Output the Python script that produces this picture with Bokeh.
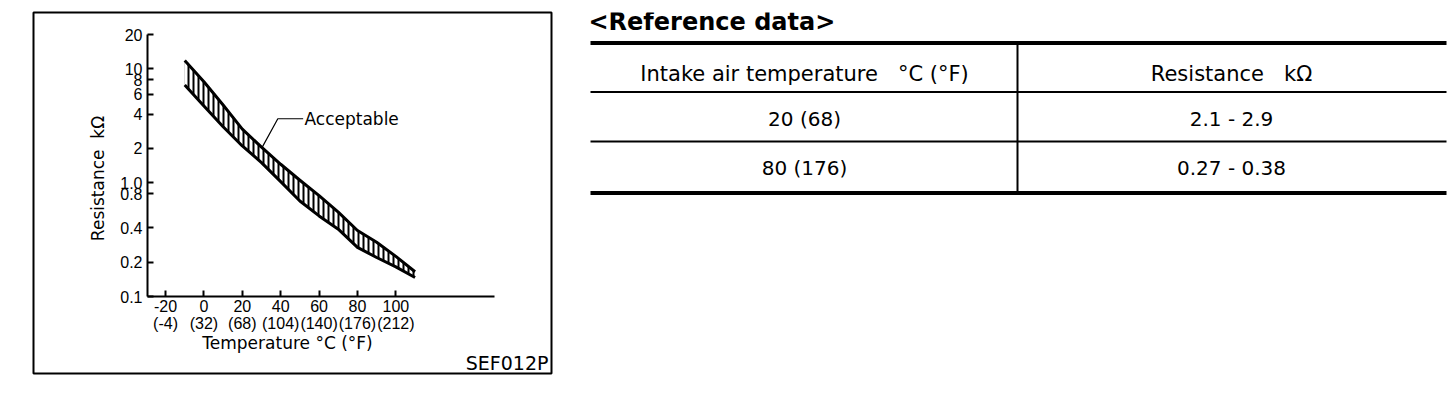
from bokeh.plotting import figure
from bokeh.models import Range1d, FixedTicker, LinearAxis, LogAxis, ColumnDataSource
from bokeh.layouts import row
from bokeh.embed import file_html
from bokeh.resources import INLINE
from bokeh.core.properties import value
import math

# ---------------- data ----------------
temp_c = [-10, 0, 10, 20, 30, 40, 50, 60, 70, 80, 90, 100, 110]
upper_kohm = [11.8, 7.7, 4.8, 2.95, 2.05, 1.45, 1.05, 0.77, 0.55, 0.38, 0.30, 0.225, 0.165]
lower_kohm = [7.2, 4.7, 3.1, 2.1, 1.5, 1.02, 0.69, 0.51, 0.39, 0.27, 0.22, 0.182, 0.147]

x_ticks = [-20, 0, 20, 40, 60, 80, 100]
x_tick_labels = ["-20\n(-4)", "0\n(32)", "20\n(68)", "40\n(104)", "60\n(140)", "80\n(176)", "100\n(212)"]
y_ticks = [0.1, 0.2, 0.4, 0.8, 1.0, 2, 4, 6, 8, 10, 20]
y_tick_labels = ["0.1", "0.2", "0.4", "0.8", "1.0", "2", "4", "6", "8", "10", "20"]
x_bounds = (-29.4, 151.4)
y_bounds = (0.1, 20)

leader_x = [30.4, 38.5, 51.7]
leader_y = [2.05, 3.64, 3.64]
annotation_text = ["Acceptable"]
annotation_x = [52.4]
annotation_y = [3.6]

x_title = "Temperature °C (°F)"
y_title = "Resistance\u00a0\u00a0kΩ"
figure_code = "SEF012P"

table_title = "<Reference data>"
table_header = ["Intake air temperature\u00a0\u00a0\u00a0°C (°F)", "Resistance\u00a0\u00a0\u00a0kΩ"]
table_temps = ["20 (68)", "80 (176)"]
table_resist = ["2.1 - 2.9", "0.27 - 0.38"]

NUM_FONT = "Liberation Sans"
TXT_FONT = "DejaVu Sans"

# ---------------- layout (page pixels) ----------------
O = 0                      # page origin of the layout
BOX = dict(l=33, r=551, t=12, b=373)       # chart frame / border box
AX = dict(x0=147, x1=494, y0=296, y1=34)   # axis line extents
CHART_W, H = 562, 384
px_per_deg = (AX["x1"] - AX["x0"]) / (x_bounds[1] - x_bounds[0])
px_per_dec = (AX["y0"] - AX["y1"]) / (math.log10(y_bounds[1]) - math.log10(y_bounds[0]))

def xval(px):
    return x_bounds[0] + (px - AX["x0"]) / px_per_deg

def yval(py):
    return 10 ** (math.log10(y_bounds[0]) + (AX["y0"] - py) / px_per_dec)

# ---------------- chart ----------------
p = figure(width=CHART_W, height=H,
           x_range=Range1d(xval(BOX["l"]), xval(BOX["r"])),
           y_range=Range1d(yval(BOX["b"]), yval(BOX["t"])),
           y_axis_type="log", x_axis_location=None, y_axis_location=None,
           output_backend="svg", toolbar_location=None,
           min_border_left=BOX["l"] - O, min_border_right=O + CHART_W - BOX["r"],
           min_border_top=BOX["t"] - O, min_border_bottom=O + H - BOX["b"])
p.outline_line_color = "black"
p.outline_line_width = 2
p.background_fill_color = "white"
p.grid.visible = False

xaxis = LinearAxis(fixed_location=y_bounds[0], bounds=x_bounds, ticker=FixedTicker(ticks=x_ticks))
yaxis = LogAxis(fixed_location=x_bounds[0], bounds=y_bounds, ticker=FixedTicker(ticks=y_ticks))
xaxis.major_label_overrides = {t: l for t, l in zip(x_ticks, x_tick_labels)}
yaxis.major_label_overrides = {t: l for t, l in zip(y_ticks, y_tick_labels)}
for ax in (xaxis, yaxis):
    ax.axis_line_width = 2
    ax.axis_line_color = "black"
    ax.major_tick_in = 6
    ax.major_tick_out = 0
    ax.minor_tick_in = 0
    ax.minor_tick_out = 0
    ax.major_tick_line_width = 2
    ax.major_tick_line_color = "black"
    ax.major_label_text_font = NUM_FONT
    ax.major_label_text_font_size = "16px"
    ax.major_label_text_color = "black"
    ax.major_label_text_line_height = 1.0
xaxis.major_label_standoff = 1
yaxis.major_label_standoff = 5
p.add_layout(xaxis, "below")
p.add_layout(yaxis, "left")

src = ColumnDataSource(dict(t=temp_c, lo=lower_kohm, hi=upper_kohm))
p.varea(x="t", y1="lo", y2="hi", source=src, fill_color=None,
        hatch_pattern="vertical_line", hatch_color="black", hatch_weight=2, hatch_scale=5)
p.line("t", "hi", source=src, line_width=3, line_color="black", line_join="round")
p.line("t", "lo", source=src, line_width=3, line_color="black", line_join="round")

p.line(leader_x, leader_y, line_width=1.2, line_color="black")
p.text(x=annotation_x, y=annotation_y, text=annotation_text, text_font=value(TXT_FONT),
       text_font_size="17px", text_baseline="middle", text_align="left", text_color="black")

# axis titles and figure code
p.text(x=[xval(97)], y=[yval(178)], text=[y_title], angle=math.pi / 2,
       text_font=value(TXT_FONT), text_font_size="17px", text_baseline="middle",
       text_align="center", text_color="black")
p.text(x=[xval(287)], y=[yval(342)], text=[x_title], text_font=value(TXT_FONT),
       text_font_size="17px", text_baseline="middle", text_align="center", text_color="black")
p.text(x=[xval(548)], y=[yval(362)], text=[figure_code], text_font=value(TXT_FONT),
       text_font_size="19px", text_baseline="middle", text_align="right", text_color="black")

# ---------------- table ----------------
TBL = dict(left=590, right=1446, mid=1017, rules=[42.5, 91.5, 141, 192.5], rule_w=[4, 2, 2, 4],
           title_x=588, title_y=21, header_y=73, row_y=[118, 167], col_cx=[804, 1231])
T_X0 = O + CHART_W
T_W = 1448 - T_X0

t = figure(width=T_W, height=H, x_range=Range1d(T_X0, T_X0 + T_W),
           y_range=Range1d(BOX["b"], BOX["t"]),
           output_backend="svg", toolbar_location=None,
           min_border_left=0, min_border_right=0,
           min_border_top=BOX["t"] - O, min_border_bottom=O + H - BOX["b"],
           x_axis_location=None, y_axis_location=None)
t.outline_line_color = None
t.grid.visible = False

n = len(TBL["rules"])
t.segment(x0=[TBL["left"]] * n, x1=[TBL["right"]] * n, y0=TBL["rules"], y1=TBL["rules"],
          line_width=TBL["rule_w"], line_color="black")
t.segment(x0=[TBL["mid"]], x1=[TBL["mid"]], y0=[TBL["rules"][0]], y1=[TBL["rules"][-1]],
          line_width=2, line_color="black")

t.text(x=[TBL["title_x"]], y=[TBL["title_y"]], text=[table_title], text_font=value(TXT_FONT),
       text_font_size="24px", text_font_style="bold", text_align="left",
       text_baseline="middle", text_color="black")
t.text(x=TBL["col_cx"], y=[TBL["header_y"]] * 2, text=table_header, text_font=value(TXT_FONT),
       text_font_size="21px", text_align="center", text_baseline="middle", text_color="black")
t.text(x=[TBL["col_cx"][0]] * 2, y=TBL["row_y"], text=table_temps, text_font=value(TXT_FONT),
       text_font_size="20px", text_align="center", text_baseline="middle", text_color="black")
t.text(x=[TBL["col_cx"][1]] * 2, y=TBL["row_y"], text=table_resist, text_font=value(TXT_FONT),
       text_font_size="20px", text_align="center", text_baseline="middle", text_color="black")

layout = row(p, t)
open("out.html", "w").write(file_html(layout, INLINE))
